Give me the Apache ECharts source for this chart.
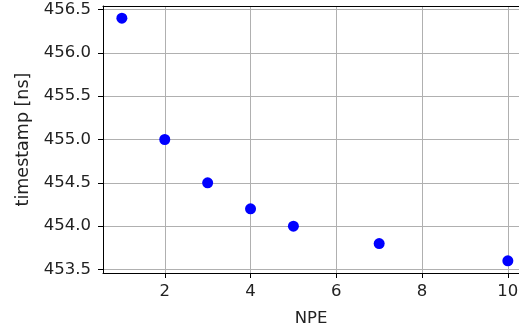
<!DOCTYPE html>
<html><head><meta charset="utf-8">
<script src="https://cdn.jsdelivr.net/npm/echarts@6/dist/echarts.min.js"></script>
<style>html,body{margin:0;padding:0;background:#fff}#c{width:519px;height:324px}</style>
</head><body><div id="c"></div>
<script>
const npe = [1, 2, 3, 4, 5, 7, 10];
const timestamp = [456.4, 455.0, 454.5, 454.2, 454.0, 453.8, 453.6];
const xTicks = [2, 4, 6, 8, 10];
const yTicks = [453.5, 454.0, 454.5, 455.0, 455.5, 456.0, 456.5];

const font = 'DejaVu Sans';
const fs = 16.5;
const chart = echarts.init(document.getElementById('c'), null, {renderer: 'canvas'});
chart.setOption({
  animation: false,
  backgroundColor: '#fff',
  grid: {left: 103, top: 6, right: 0, bottom: 51, show: false, containLabel: false, outerBoundsMode: 'none'},
  xAxis: [{
    type: 'value', min: 0.56, max: 10.26,
    name: 'NPE', nameLocation: 'middle', nameGap: 37,
    nameTextStyle: {fontFamily: font, fontSize: fs, color: '#222'},
    axisLine: {show: true, onZero: false, lineStyle: {color: '#000', width: 1}},
    axisTick: {show: true, customValues: xTicks, length: 5, lineStyle: {color: '#000'}},
    axisLabel: {customValues: xTicks, margin: 10, fontFamily: font, fontSize: fs, color: '#222'},
    splitLine: {show: true, lineStyle: {color: '#b0b0b0', width: 1}}
  }, {
    type: 'value', position: 'top', min: 0.56, max: 10.26,
    axisLine: {show: true, lineStyle: {color: '#000', width: 1}},
    axisTick: {show: false}, axisLabel: {show: false}, splitLine: {show: false}
  }],
  yAxis: {
    type: 'value', min: 453.46, max: 456.54,
    name: 'timestamp [ns]', nameLocation: 'middle', nameGap: 69,
    nameTextStyle: {fontFamily: font, fontSize: 17.5, color: '#222'},
    axisLine: {show: true, onZero: false, lineStyle: {color: '#000', width: 1}},
    axisTick: {show: true, customValues: yTicks, length: 5, lineStyle: {color: '#000'}},
    axisLabel: {customValues: yTicks, margin: 12, fontFamily: font, fontSize: fs, color: '#222',
      formatter: v => v.toFixed(1)},
    splitLine: {show: true, lineStyle: {color: '#b0b0b0', width: 1}}
  },
  series: [{
    type: 'scatter',
    data: npe.map((x, i) => [x, timestamp[i]]),
    symbolSize: 11,
    itemStyle: {color: '#0000ff', opacity: 1}
  }]
});
</script>
</body></html>
